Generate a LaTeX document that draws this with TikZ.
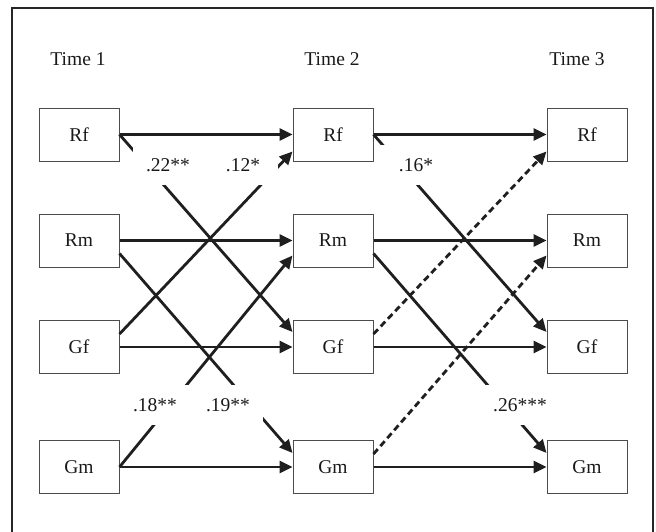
\documentclass[tikz,border=0pt]{standalone}
\usepackage{fontspec}
\setmainfont{Liberation Serif}
\usetikzlibrary{arrows.meta}
\begin{document}
\begin{tikzpicture}[x=1pt,y=-1pt,
  every node/.style={font=\fontsize{19.5}{22}\selectfont, text=black!90},
  var/.style={draw=black!70, line width=1pt, minimum width=80pt, minimum height=53pt, inner sep=0pt},
  hd/.style={inner sep=0pt},
  coef/.style={fill=white, minimum width=70pt, minimum height=40pt, inner sep=0pt},
  path/.style={draw=black!88, line width=2.8pt, -{Triangle[length=13pt,width=12pt]}},
  dpath/.style={path, dash pattern=on 6.5pt off 4pt}]
\useasboundingbox (0,0) rectangle (656,531);
\draw[line width=1.5pt, draw=black!85] (12,8) rectangle (653,560);
% headings
\node[hd] (t1) at (78,59) {Time 1};
\node[hd] (t2) at (332,59) {Time 2};
\node[hd] (t3) at (577,59) {Time 3};
% boxes
\foreach \c/\x in {1/79,2/333,3/587}{
  \node[var] (Rf\c) at (\x,134.5) {Rf};
  \node[var] (Rm\c) at (\x,240.5) {Rm};
  \node[var] (Gf\c) at (\x,347) {Gf};
  \node[var] (Gm\c) at (\x,467) {Gm};
}
% stability paths
\foreach \a/\b in {1/2,2/3}{
  \draw[path] (Rf\a.east) -- (Rf\b.west);
  \draw[path] (Rm\a.east) -- (Rm\b.west);
  \draw[path] (Gf\a.east) -- (Gf\b.west);
  \draw[path] (Gm\a.east) -- (Gm\b.west);
}
% cross paths time 1 -> time 2
\draw[path] (Rf1.east) -- ([yshift=15pt]Gf2.west);
\draw[path] ([yshift=13pt]Gf1.east) -- ([yshift=-17pt]Rf2.west);
\draw[path] ([yshift=-13pt]Rm1.east) -- ([yshift=14pt]Gm2.west);
\draw[path] (Gm1.east) -- ([yshift=-15pt]Rm2.west);
% cross paths time 2 -> time 3
\draw[path] (Rf2.east) -- ([yshift=15pt]Gf3.west);
\draw[dpath] ([yshift=13pt]Gf2.east) -- ([yshift=-17pt]Rf3.west);
\draw[path] ([yshift=-13pt]Rm2.east) -- ([yshift=14pt]Gm3.west);
\draw[dpath] ([yshift=13pt]Gm2.east) -- ([yshift=-15pt]Rm3.west);
% coefficients
\node[coef] (c1) at (168,165) {.22**};
\node[coef] (c2) at (243,165) {.12*};
\node[coef] (c3) at (416,165) {.16*};
\node[coef] (c4) at (155,405) {.18**};
\node[coef] (c5) at (228,405) {.19**};
\node[coef] (c6) at (520,405) {.26***};
\end{tikzpicture}
\end{document}
